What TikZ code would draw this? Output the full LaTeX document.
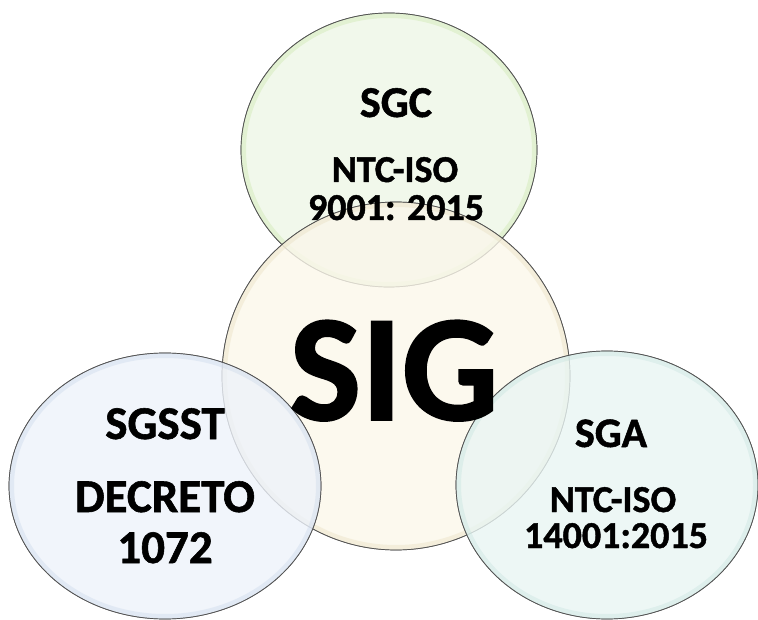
\documentclass[tikz,border=0pt]{standalone}
\usepackage{fontspec}
\setmainfont{Carlito}[BoldFeatures={FakeBold=1.2}]
\usetikzlibrary{shapes.geometric}
\definecolor{sgcfill}{HTML}{EEF6E6}
\definecolor{sgcglow}{HTML}{CBE8AE}
\definecolor{sigfill}{HTML}{FBF7EA}
\definecolor{sigglow}{HTML}{E8E0C0}
\definecolor{sstfill}{HTML}{EDF2FA}
\definecolor{sstglow}{HTML}{CCD8EA}
\definecolor{sgafill}{HTML}{E9F5F3}
\definecolor{sgaglow}{HTML}{C6E4DE}
\tikzset{
  bubble/.style={ellipse, draw=gray!70!black, line width=0.7pt,
    fill=#1, fill opacity=0.8, inner sep=0pt},
  glow/.style={draw=#1, line width=10pt, draw opacity=0.4},
  lbl/.style={font=\bfseries\fontsize{#1}{#1}\selectfont, text=black, inner sep=0pt, anchor=base}
}
% \mybubble{name}{x}{y}{rx}{ry}{fill}{glow}
\newcommand\mybubble[7]{%
  \node[bubble=#6, minimum width=2*#4pt, minimum height=2*#5pt] (#1) at (#2,#3) {};
  \begin{scope}
    \clip (#2,#3) ellipse [x radius=#4pt, y radius=#5pt];
    \draw[glow=#7] (#2,#3) ellipse [x radius=#4pt, y radius=#5pt];
  \end{scope}
  \draw[gray!65!black, line width=0.7pt] (#2,#3) ellipse [x radius=#4pt, y radius=#5pt];
}
\begin{document}
\begin{tikzpicture}[x=1pt,y=-1pt]
\useasboundingbox (0,0) rectangle (758,620);
\mybubble{sgc}{389}{150}{148}{137}{sgcfill}{sgcglow}
\mybubble{sig}{396}{376}{174}{174}{sigfill}{sigglow}
\mybubble{sgsst}{165}{486}{156}{133}{sstfill}{sstglow}
\mybubble{sga}{607}{485}{151}{134}{sgafill}{sgaglow}
% texts
\node[lbl=44] (tsgc) at (396,117) {SGC};
\node[lbl=38] (tsgc1) at (395,182) {NTC-ISO};
\node[lbl=38] (tsgc2) at (396,220) {9001: 2015};
\node[lbl=152] (tsig) at (394,420) {SIG};
\node[lbl=47] (tsgsst) at (165,439) {SGSST};
\node[lbl=47] (tsgsst1) at (165,512) {DECRETO};
\node[lbl=47] (tsgsst2) at (165,563) {1072};
\node[lbl=42] (tsga) at (611,447) {SGA};
\node[lbl=38] (tsga1) at (613,512) {NTC-ISO};
\node[lbl=38] (tsga2) at (616,548) {14001:2015};
\end{tikzpicture}
\end{document}
